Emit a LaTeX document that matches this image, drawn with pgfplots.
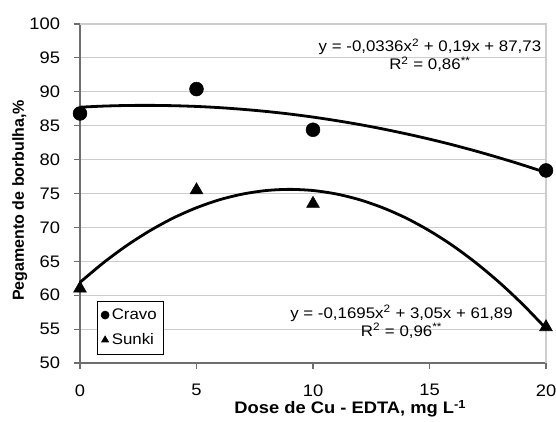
\documentclass[border=0pt]{standalone}
\usepackage{fontspec}
\setmainfont{Liberation Sans}
\newfontfamily\wide[FakeStretch=1.1]{Liberation Sans}
\usepackage{pgfplots}
\pgfplotsset{compat=1.18}
\definecolor{gridgray}{RGB}{205,205,205}
\definecolor{axgray}{RGB}{110,110,110}
\begin{document}
\begin{tikzpicture}
  % page frame, 1 px = 0.75 pt
  \useasboundingbox (-60pt,-43.5pt) rectangle (357pt,272.25pt);
  \begin{axis}[
    scale only axis,
    width=349.5pt, height=254.25pt,
    xmin=0, xmax=20, ymin=50, ymax=100,
    xtick={0,5,10,15,20},
    ytick={50,55,...,100},
    tick align=outside,
    major tick length=4.5pt,
    tick style={color=axgray, line width=0.8pt},
    ymajorgrids,
    grid style={gridgray, line width=0.8pt},
    axis line style={gridgray, line width=0.8pt},
    separate axis lines,
    x axis line style={axgray},
    y axis line style={axgray},
    axis x line*=bottom, axis y line*=left,
    every outer x axis line/.append style={-},
    every outer y axis line/.append style={-},
    clip=false,
    tick label style={font=\wide\fontsize{12.5}{14}\selectfont},
    /pgf/number format/assume math mode=true,
    xticklabel style={yshift=-8pt},
    yticklabel style={xshift=-7pt},
    xlabel={\textbf{Dose de Cu - EDTA, mg L\textsuperscript{-1}}},
    xlabel style={font=\wide\fontsize{12.5}{15}\selectfont, at={(rel axis cs:0.58,-0.135)}, anchor=center},
    ylabel={\textbf{Pegamento de borbulha,\%}},
    ylabel style={font=\fontsize{12}{14}\selectfont, at={(rel axis cs:-0.129,0.48)}, anchor=center, rotate=0},
    legend style={at={(rel axis cs:0.036,0.026)}, anchor=south west,
      font=\wide\fontsize{11.5}{14}\selectfont, draw=black, line width=0.5pt,
      inner xsep=3pt, inner ysep=3.5pt, row sep=5pt, cells={anchor=west}},
    legend image code/.code={\draw[#1, mark size=3pt] plot coordinates {(0.1cm,0cm)};},
  ]
    % top and right frame
    \draw[gridgray, line width=0.8pt] (rel axis cs:0,1) -- (rel axis cs:1,1) -- (rel axis cs:1,0);

    \addplot[only marks, mark=*, mark size=5.2pt, black] coordinates {
      (0,86.8) (5,90.4) (10,84.4) (20,78.4)
    };
    \addlegendentry{Cravo}
    \addplot[only marks, mark=triangle*, mark size=5.5pt, black] coordinates {
      (0,61.0) (5,75.5) (10,73.5) (20,55.3)
    };
    \addlegendentry{Sunki}

    % fitted curves (values of the printed equations)
    \addplot[black, line width=2.1pt, smooth, forget plot] coordinates {
      (0,87.73) (1,87.89) (2,87.98) (3,88.00) (4,87.95) (5,87.84) (6,87.66)
      (7,87.41) (8,87.10) (9,86.72) (10,86.27) (11,85.75) (12,85.17) (13,84.52)
      (14,83.80) (15,83.02) (16,82.17) (17,81.25) (18,80.26) (19,79.21) (20,78.09)
    };
    \addplot[black, line width=2.1pt, smooth, forget plot] coordinates {
      (0,61.89) (1,64.77) (2,67.31) (3,69.51) (4,71.38) (5,72.90) (6,74.09)
      (7,74.93) (8,75.44) (9,75.61) (10,75.44) (11,74.93) (12,74.08) (13,72.89)
      (14,71.37) (15,69.50) (16,67.30) (17,64.75) (18,61.87) (19,58.65) (20,55.09)
    };

    \node[font=\wide\fontsize{11.5}{13.5}\selectfont, align=center] at (axis cs:15.02,95.4)
      {y = -0,0336x\textsuperscript{2} + 0,19x + 87,73\\R\textsuperscript{2} = 0,86\textsuperscript{**}};
    \node[font=\wide\fontsize{11.5}{13.5}\selectfont, align=center] at (axis cs:13.8,56.05)
      {y = -0,1695x\textsuperscript{2} + 3,05x + 61,89\\R\textsuperscript{2} = 0,96\textsuperscript{**}};
  \end{axis}
\end{tikzpicture}
\end{document}
